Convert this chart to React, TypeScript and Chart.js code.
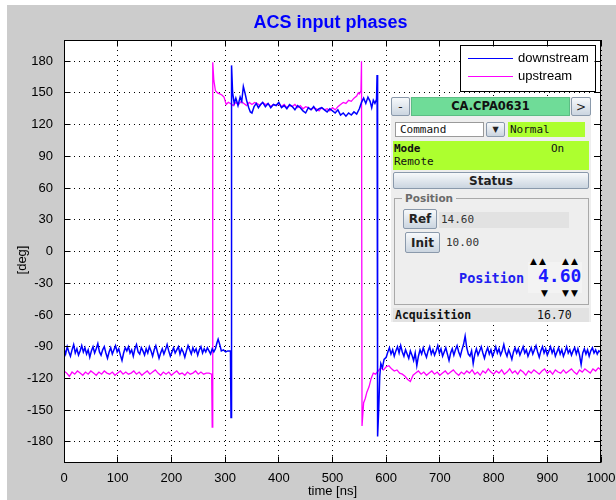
import React, { useEffect, useRef } from "react";
import { Chart, registerables } from "chart.js";

Chart.register(...registerables);

const chartTitle = "ACS input phases";
const xAxisTitle = "time [ns]";
const yAxisTitle = "[deg]";
const seriesNames = ["downstream", "upstream"];
const seriesColors = ["#0000ff", "#ff00ff"];
const xRange = [0, 1000];
const yRange = [-200, 200];
const xTicks = [0, 100, 200, 300, 400, 500, 600, 700, 800, 900, 1000];
const yTicks = [-180, -150, -120, -90, -60, -30, 0, 30, 60, 90, 120, 150, 180];

const downTimes = [
  0, 3, 6, 9, 12, 15, 18, 21, 24, 27, 30, 33, 36, 39, 42, 45, 48, 51, 54, 57,
  60, 63, 66, 69, 72, 75, 78, 81, 84, 87, 90, 93, 96, 99, 102, 105, 108, 111, 114, 117,
  120, 123, 126, 129, 132, 135, 138, 141, 144, 147, 150, 153, 156, 159, 162, 165, 168, 171, 174, 177,
  180, 183, 186, 189, 192, 195, 198, 201, 204, 207, 210, 213, 216, 219, 222, 225, 228, 231, 234, 237,
  240, 243, 246, 249, 252, 255, 258, 261, 264, 267, 270, 273, 276, 279,
  282, 285, 287, 290, 293, 297, 301, 305, 310, 311, 312, 314, 317, 320, 324, 328, 331, 334, 337, 340,
  344, 347, 350, 354, 358, 362, 366, 370, 375, 380, 385, 390, 395, 400, 405, 410, 415, 420, 425, 430,
  435, 440, 445, 450, 455, 460, 465, 470, 475, 480, 485, 490, 495, 500, 505, 510, 515, 520, 525, 530,
  535, 540, 545, 550, 554, 558, 562, 566, 570, 573, 576, 579, 582, 583, 584, 586, 588, 590, 593, 596,
  600, 603, 606, 609, 612, 615, 618, 621, 624, 627, 630, 633, 636, 639, 642, 645, 648, 651, 654, 657,
  660, 663, 666, 669, 672, 675, 678, 681, 684, 687, 690, 693, 696, 699, 702, 705, 708, 711, 714, 717,
  720, 723, 726, 729, 732, 735, 738, 741, 744, 747, 750, 753, 756, 759, 762, 765, 768, 771, 774, 777,
  780, 783, 786, 789, 792, 795, 798, 801, 804, 807, 810, 813, 816, 819, 822, 825, 828, 831, 834, 837,
  840, 843, 846, 849, 852, 855, 858, 861, 864, 867, 870, 873, 876, 879, 882, 885, 888, 891, 894, 897,
  900, 903, 906, 909, 912, 915, 918, 921, 924, 927, 930, 933, 936, 939, 942, 945, 948, 951, 954, 957,
  960, 963, 966, 969, 972, 975, 978, 981, 984, 987, 990, 993, 996, 999, 1000,
];
const downValues = [
  -92, -97, -90, -95, -99, -93, -88, -96, -92, -98, -94, -89, -95, -91, -97, -93, -100, -94, -90, -96,
  -92, -87, -95, -98, -93, -90, -96, -101, -95, -91, -97, -93, -89, -95, -92, -98, -103, -96, -91, -94,
  -90, -96, -93, -99, -92, -88, -95, -97, -91, -94, -98, -92, -96, -90, -94, -99, -93, -89, -95, -101,
  -96, -92, -97, -93, -88, -94, -99, -95, -91, -96, -93, -90, -97, -92, -95, -100, -94, -89, -93, -97,
  -91, -95, -92, -98, -93, -90, -96, -92, -95, -91, -94, -97, -92, -95,
  -92, -86, -83, -88, -94, -93, -95, -94, -94, -157, 176, 150, 140, 145, 138, 146, 142, 156, 150, 143,
  136, 132, 131, 137, 140, 136, 139, 141, 137, 140, 136, 139, 138, 141, 136, 138, 135, 139, 137, 134,
  138, 136, 133, 131, 136, 134, 137, 133, 135, 136, 134, 132, 135, 133, 131, 134, 129, 131, 128, 131,
  129, 132, 130, 135, 141, 145, 140, 146, 142, 136, 143, 140, 144, 167, -175, -150, -118, -106, -110, -102,
  -100, -95, -91, -97, -93, -99, -94, -90, -96, -89, -95, -99, -93, -97, -101, -94, -98, -103, -96, -108,
  -99, -93, -97, -91, -96, -100, -94, -90, -97, -93, -98, -94, -89, -96, -92, -99, -95, -91, -97, -103,
  -96, -92, -98, -93, -89, -95, -99, -93, -88, -80, -91, -97, -99, -94, -106, -97, -92, -98, -94, -90,
  -96, -101, -95, -91, -97, -93, -99, -95, -90, -96, -92, -98, -94, -88, -95, -99, -93, -97, -102, -95,
  -91, -96, -92, -98, -94, -90, -96, -93, -99, -95, -91, -97, -93, -89, -95, -100, -94, -90, -96, -92,
  -98, -94, -90, -96, -92, -99, -95, -91, -97, -93, -99, -95, -90, -96, -93, -98, -94, -91, -97, -92,
  -98, -107, -96, -92, -97, -93, -99, -94, -91, -96, -93, -97, -94, -95, -98,
];

const upTimes = [
  0, 5, 10, 15, 20, 25, 30, 35, 40, 45, 50, 55, 60, 65, 70, 75, 80, 85, 90, 95,
  100, 105, 110, 115, 120, 125, 130, 135, 140, 145, 150, 155, 160, 165, 170, 175, 180, 185, 190, 195,
  200, 205, 210, 215, 220, 225, 230, 235, 240, 245, 250, 255, 260, 265, 270, 275, 276, 277, 279, 282,
  286, 290, 294, 298, 302, 306, 310, 315, 320, 325, 330, 335, 340, 345, 350, 355, 360, 365, 370, 375,
  380, 385, 390, 395, 400, 405, 410, 415, 420, 425, 430, 435, 440, 445, 450, 455, 460, 465, 470, 475,
  480, 485, 490, 495, 500, 505, 510, 515, 520, 525, 530, 535, 540, 545, 548, 550, 553, 554, 555, 558,
  561, 564, 568, 572, 576, 580, 585, 590, 595, 600, 605, 610, 615, 620, 625, 630, 635, 640, 645, 650,
  655, 660, 665, 670, 675, 680, 685, 690, 695, 700, 705, 710, 715, 720, 725, 730, 735, 740, 745, 750,
  755, 760, 765, 770, 775, 780, 785, 790, 795, 800, 805, 810, 815, 820, 825, 830, 835, 840, 845, 850,
  855, 860, 865, 870, 875, 880, 885, 890, 895, 900, 905, 910, 915, 920, 925, 930, 935, 940, 945, 950,
  955, 960, 965, 970, 975, 980, 985, 990, 995, 1000,
];
const upValues = [
  -113, -115, -118, -114, -116, -113, -115, -117, -114, -116, -113, -115, -117, -114, -116, -113, -115, -116, -114, -117,
  -115, -113, -116, -114, -116, -115, -113, -116, -114, -117, -115, -113, -116, -114, -112, -115, -117, -114, -116, -114,
  -117, -115, -113, -116, -115, -117, -114, -116, -115, -113, -116, -114, -116, -115, -115, -116, -166, 179, 162, 152,
  150, 149, 148, 146, 139, 141, 140, 138, 141, 139, 142, 140, 138, 141, 139, 141, 140, 138, 141, 139,
  140, 137, 139, 138, 140, 137, 139, 136, 138, 137, 139, 136, 138, 135, 137, 136, 134, 136, 135, 133,
  136, 134, 135, 133, 136, 134, 137, 139, 141, 140, 143, 142, 145, 147, 150, 149, 152, 180, -165, -143,
  -139, -133, -128, -120, -115, -116, -113, -110, -112, -109, -108, -111, -113, -112, -115, -116, -118, -121, -123, -117,
  -115, -113, -116, -114, -117, -115, -113, -116, -114, -117, -115, -113, -116, -114, -112, -115, -117, -114, -116, -113,
  -115, -112, -116, -114, -117, -113, -115, -111, -114, -116, -113, -115, -112, -116, -114, -111, -115, -113, -116, -112,
  -114, -117, -113, -115, -112, -114, -116, -113, -111, -115, -113, -116, -112, -114, -115, -112, -115, -113, -111, -114,
  -116, -112, -114, -111, -113, -115, -111, -113, -110, -112,
];

// Overlay panel texts
const panelDevice = "CA.CPA0631";
const panelCommand = "Command";
const panelCommandValue = "Normal";
const panelModeLabel = "Mode";
const panelModeValue = "On";
const panelModeSub = "Remote";
const panelStatus = "Status";
const panelGroup = "Position";
const panelRefLabel = "Ref";
const panelRefValue = "14.60";
const panelInitLabel = "Init";
const panelInitValue = "10.00";
const panelPosLabel = "Position";
const panelPosValue = "4.60";
const panelAcqLabel = "Acquisition";
const panelAcqValue = "16.70";

const LABEL_FONT = "'Liberation Sans', Arial, Helvetica, sans-serif";
const align = (p: number) => Math.round(p - 0.5) + 0.5;

const figurePlugin = {
  id: "figureDecor",
  beforeDraw(chart: any) {
    const { ctx, chartArea: a, width, height } = chart;
    ctx.save();
    ctx.fillStyle = "#ffffff";
    ctx.fillRect(0, 0, width, height);
    ctx.fillStyle = "#cccccc";
    ctx.fillRect(7, 5, width - 7, height - 5);
    ctx.fillStyle = "#ffffff";
    ctx.fillRect(a.left, a.top, a.right - a.left, a.bottom - a.top);
    ctx.restore();
  },
  afterDraw(chart: any) {
    const { ctx, chartArea: a, scales } = chart;
    const L = align(a.left + 0.5);
    const R = align(a.right - 0.5);
    const T = align(a.top + 0.5);
    const B = align(a.bottom - 0.5);
    ctx.save();

    // legend box
    const lx = 460.5, ly = 45.5, lw = 135, lh = 46;
    ctx.fillStyle = "#ffffff";
    ctx.fillRect(lx, ly, lw, lh);
    ctx.strokeStyle = "#000000";
    ctx.lineWidth = 1;
    ctx.strokeRect(lx, ly, lw, lh);
    seriesNames.forEach((name, i) => {
      const yy = 58.5 + i * 18;
      ctx.strokeStyle = seriesColors[i];
      ctx.lineWidth = 1;
      ctx.beginPath();
      ctx.moveTo(468, yy);
      ctx.lineTo(513, yy);
      ctx.stroke();
      ctx.fillStyle = "#000000";
      ctx.font = `13px ${LABEL_FONT}`;
      ctx.textAlign = "left";
      ctx.textBaseline = "middle";
      ctx.fillText(name, 518, yy);
    });

    // axes box
    ctx.strokeStyle = "#000000";
    ctx.lineWidth = 1;
    ctx.strokeRect(L, T, R - L, B - T);
    const tl = 6;
    ctx.beginPath();
    xTicks.forEach((v) => {
      const x = align(scales.x.getPixelForValue(v));
      ctx.moveTo(x, B);
      ctx.lineTo(x, B - tl);
      ctx.moveTo(x, T);
      ctx.lineTo(x, T + tl);
    });
    yTicks.forEach((v) => {
      const y = align(scales.y.getPixelForValue(v));
      ctx.moveTo(L, y);
      ctx.lineTo(L + tl, y);
      ctx.moveTo(R, y);
      ctx.lineTo(R - tl, y);
    });
    ctx.stroke();

    // title
    ctx.fillStyle = "#0000ff";
    ctx.font = `bold 18px ${LABEL_FONT}`;
    ctx.textAlign = "center";
    ctx.textBaseline = "alphabetic";
    ctx.fillText(chartTitle, (a.left + a.right) / 2 - 2, 28);

    // axis titles
    ctx.fillStyle = "#000000";
    ctx.font = `13px ${LABEL_FONT}`;
    ctx.textBaseline = "middle";
    ctx.fillText(xAxisTitle, (a.left + a.right) / 2, 491);
    ctx.translate(22, 260);
    ctx.rotate(-Math.PI / 2);
    ctx.fillText(yAxisTitle, 0, 0);
    ctx.restore();
  },
};

const mono = "'DejaVu Sans Mono', monospace";
const sans = "'DejaVu Sans', sans-serif";

const btn: React.CSSProperties = {
  position: "absolute",
  boxSizing: "border-box",
  background: "linear-gradient(#f7f9fb, #cbd5e0)",
  border: "1px solid #8a99ab",
  borderRadius: 2,
  fontFamily: sans,
  fontWeight: "bold",
  color: "#222222",
  display: "flex",
  alignItems: "center",
  justifyContent: "center",
};

const abs = (l: number, t: number, w: number, h: number, extra: React.CSSProperties = {}): React.CSSProperties => ({
  position: "absolute",
  left: l,
  top: t,
  width: w,
  height: h,
  boxSizing: "border-box",
  ...extra,
});

const arrowStyle: React.CSSProperties = { fontFamily: sans, fontSize: 9, lineHeight: "10px", letterSpacing: 2, color: "#000", whiteSpace: "nowrap" };

function Panel() {
  return (
    <div style={{ position: "absolute", left: 391, top: 97, width: 200, height: 225, background: "#eeeeee", overflow: "hidden" }}>
      <div style={{ ...btn, left: 0, top: 0, width: 19, height: 19, fontSize: 12, fontWeight: "normal" }}>-</div>
      <div
        style={abs(20, 0, 159, 19, {
          background: "#6fdc98",
          border: "1px solid #5cbd84",
          fontFamily: sans,
          fontWeight: "bold",
          fontSize: 11.5,
          lineHeight: "17px",
          textAlign: "center",
          color: "#111111",
        })}
      >
        {panelDevice}
      </div>
      <div style={{ ...btn, left: 180, top: 0, width: 20, height: 19, fontSize: 12, fontWeight: "normal" }}>&gt;</div>

      <div style={abs(4, 25, 89, 15, { background: "#ffffff", border: "1px solid #9a9a9a", fontFamily: mono, fontSize: 11, lineHeight: "13px", paddingLeft: 4, color: "#111" })}>
        {panelCommand}
      </div>
      <div style={{ ...btn, left: 95, top: 25, width: 19, height: 15, fontSize: 8, fontWeight: "normal" }}>▼</div>
      <div style={abs(117, 25, 77, 15, { background: "#adff2f", fontFamily: mono, fontSize: 11, lineHeight: "15px", paddingLeft: 2, color: "#111" })}>
        {panelCommandValue}
      </div>

      <div style={abs(2, 44, 196, 29, { background: "#adff2f", fontFamily: mono, fontSize: 11, color: "#111" })}>
        <div style={abs(1, 1, 60, 13, { fontWeight: "bold", lineHeight: "13px" })}>{panelModeLabel}</div>
        <div style={abs(158, 1, 30, 13, { lineHeight: "13px" })}>{panelModeValue}</div>
        <div style={abs(1, 14, 80, 13, { lineHeight: "13px" })}>{panelModeSub}</div>
      </div>

      <div style={{ ...btn, left: 2, top: 75, width: 196, height: 17, fontSize: 12 }}>{panelStatus}</div>

      <div style={abs(3, 101, 195, 107, { border: "1px solid #a9a9a9" })}>
        <div
          style={{
            position: "absolute",
            left: 7,
            top: -8,
            padding: "0 3px",
            background: "#eeeeee",
            fontFamily: sans,
            fontWeight: "bold",
            fontSize: 10.5,
            lineHeight: "14px",
            color: "#6a6a6a",
          }}
        >
          {panelGroup}
        </div>
      </div>

      <div style={{ ...btn, left: 12, top: 112, width: 34, height: 20, fontSize: 12 }}>{panelRefLabel}</div>
      <div style={abs(48, 115, 130, 16, { background: "#e2e2e2", fontFamily: mono, fontSize: 11, lineHeight: "16px", paddingLeft: 2, color: "#333" })}>
        {panelRefValue}
      </div>
      <div style={{ ...btn, left: 14, top: 135, width: 35, height: 21, fontSize: 12 }}>{panelInitLabel}</div>
      <div style={abs(55, 138, 60, 16, { fontFamily: mono, fontSize: 11, lineHeight: "16px", color: "#333" })}>{panelInitValue}</div>

      <div style={abs(137, 165, 54, 31, { background: "#f3f3f3" })} />
      <div style={abs(68, 172, 80, 18, { fontFamily: mono, fontWeight: "bold", fontSize: 13.5, lineHeight: "18px", color: "#2020f0" })}>
        {panelPosLabel}
      </div>
      <div style={abs(147, 168, 50, 22, { fontFamily: mono, fontWeight: "bold", fontSize: 18, lineHeight: "22px", color: "#1a1aff" })}>
        {panelPosValue}
      </div>
      <div style={abs(139, 159, 24, 10, arrowStyle)}>▲▲</div>
      <div style={abs(171, 159, 24, 10, arrowStyle)}>▲▲</div>
      <div style={abs(150, 191, 12, 10, arrowStyle)}>▼</div>
      <div style={abs(171, 191, 24, 10, arrowStyle)}>▼▼</div>

      <div style={abs(2, 211, 196, 14, { background: "#e2e2e2", fontFamily: mono, fontSize: 11.5, color: "#111" })}>
        <div style={abs(2, 0, 100, 14, { fontWeight: "bold", lineHeight: "14px" })}>{panelAcqLabel}</div>
        <div style={abs(144, 0, 50, 14, { lineHeight: "14px" })}>{panelAcqValue}</div>
      </div>
    </div>
  );
}

export default function App() {
  const canvasRef = useRef<HTMLCanvasElement | null>(null);

  useEffect(() => {
    const canvas = canvasRef.current;
    if (!canvas) return;
    const tickFont = { family: LABEL_FONT, size: 13 };
    const chart = new Chart(canvas, {
      type: "line",
      data: {
        datasets: [
          {
            label: seriesNames[0],
            data: downTimes.map((t, i) => ({ x: t, y: downValues[i] })),
            borderColor: seriesColors[0],
            borderWidth: 1.5,
            pointRadius: 0,
            tension: 0,
            fill: false,
          },
          {
            label: seriesNames[1],
            data: upTimes.map((t, i) => ({ x: t, y: upValues[i] })),
            borderColor: seriesColors[1],
            borderWidth: 1.3,
            pointRadius: 0,
            tension: 0,
            fill: false,
          },
        ],
      },
      options: {
        animation: false,
        responsive: false,
        maintainAspectRatio: false,
        devicePixelRatio: 1,
        layout: { padding: { left: 0, right: 15, top: 40, bottom: 0 } },
        plugins: {
          legend: { display: false },
          title: { display: false },
          tooltip: { enabled: false },
        },
        scales: {
          x: {
            type: "linear",
            min: xRange[0],
            max: xRange[1],
            afterBuildTicks: (s: any) => {
              s.ticks = xTicks.map((v) => ({ value: v }));
            },
            afterFit: (s: any) => {
              s.height = 37;
              s.paddingLeft = 0;
              s.paddingRight = 0;
            },
            ticks: { font: tickFont, color: "#000000", padding: 8, maxRotation: 0, autoSkip: false, callback: (v: any) => String(v) },
            grid: { color: "#000000", lineWidth: 1, drawTicks: false },
            border: { display: false, dash: [1, 4] },
          },
          y: {
            type: "linear",
            min: yRange[0],
            max: yRange[1],
            afterBuildTicks: (s: any) => {
              s.ticks = yTicks.map((v) => ({ value: v }));
            },
            afterFit: (s: any) => {
              s.width = 64;
              s.paddingTop = 0;
              s.paddingBottom = 0;
            },
            ticks: { font: tickFont, color: "#000000", padding: 11, autoSkip: false, callback: (v: any) => String(v) },
            grid: { color: "#000000", lineWidth: 1, drawTicks: false },
            border: { display: false, dash: [1, 4] },
          },
        },
      },
      plugins: [figurePlugin],
    });
    return () => chart.destroy();
  }, []);

  return (
    <div style={{ position: "absolute", left: 0, top: 0, width: 616, height: 500, overflow: "hidden" }}>
      <canvas ref={canvasRef} width={616} height={500} style={{ position: "absolute", left: 0, top: 0, width: 616, height: 500 }} />
      <Panel />
    </div>
  );
}
